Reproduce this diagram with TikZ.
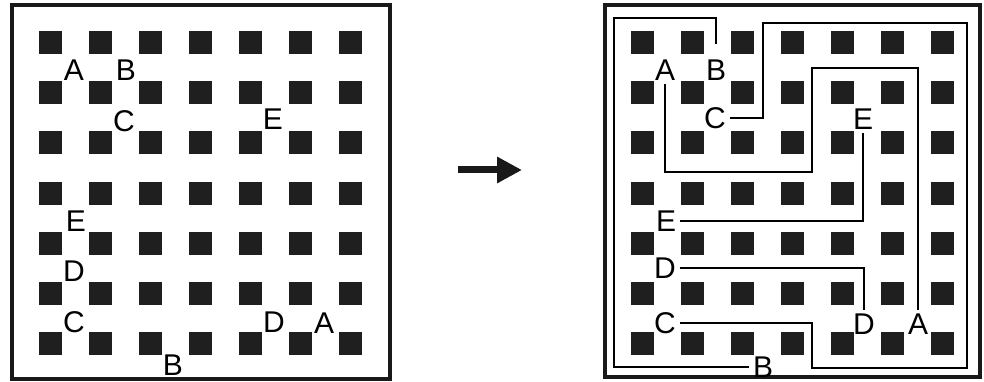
\documentclass[tikz,border=0pt]{standalone}
\usepackage{fontspec}
\setmainfont{Liberation Sans}
\usetikzlibrary{arrows.meta}
\tikzset{
    >=Latex,
    maze_square/.style={
        rectangle,
        fill=black!88,
        minimum size=23pt,
        inner sep=0pt
    },
    maze_label/.style={
        inner sep=3.5pt,
        font=\fontsize{30}{30}\selectfont
    },
    maze_frame/.style={
        draw=black!90,
        line width=3.5pt
    },
    maze_route/.style={
        draw=black,
        line width=1.7pt
    },
    maze_arrow/.style={
        -{Triangle[length=25pt, width=25pt]},
        line width=7pt,
        black!90
    }
}

\begin{document}
\begin{tikzpicture}[x=50pt, y=-50pt]
\useasboundingbox (0,0) rectangle (19.68,7.64);

% --- Left board ---
\draw[maze_frame] (0.24,0.1) rectangle (7.8,7.58);
\begin{scope}[shift={(0,-0.14)}]
\foreach \i in {1,...,7}
    \foreach \j in {1,...,7}
        \node[maze_square] (L-\i-\j) at (\i,\j) {};

\node[maze_label] (lA1) at (1.48,1.54) {A};
\node[maze_label] (lB1) at (2.52,1.54) {B};
\node[maze_label] (lC1) at (2.48,2.56) {C};
\node[maze_label] (lE1) at (5.46,2.52) {E};
\node[maze_label] (lE2) at (1.52,4.56) {E};
\node[maze_label] (lD1) at (1.48,5.56) {D};
\node[maze_label] (lC2) at (1.48,6.58) {C};
\node[maze_label] (lD2) at (5.48,6.58) {D};
\node[maze_label] (lA2) at (6.48,6.6) {A};
\node[maze_label] (lB2) at (3.46,7.44) {B};
\end{scope}

% --- Arrow ---
\coordinate (arrStart) at (9.16,3.4);
\coordinate (arrEnd) at (10.44,3.4);
\draw[maze_arrow] (arrStart) -- (arrEnd);

% --- Right board (routed) ---
\draw[maze_frame] (12.1,0.1) rectangle (19.6,7.54);
\begin{scope}[shift={(11.84,-0.14)}]
\foreach \i in {1,...,7}
    \foreach \j in {1,...,7}
        \node[maze_square] (R-\i-\j) at (\i,\j) {};

\node[maze_label] (rA1) at (1.46,1.54) {A};
\node[maze_label] (rB1) at (2.48,1.54) {B};
\node[maze_label] (rC1) at (2.46,2.5) {C};
\node[maze_label] (rE1) at (5.42,2.52) {E};
\node[maze_label] (rE2) at (1.48,4.56) {E};
\node[maze_label] (rD1) at (1.46,5.5) {D};
\node[maze_label] (rC2) at (1.46,6.6) {C};
\node[maze_label] (rD2) at (5.44,6.62) {D};
\node[maze_label] (rA2) at (6.52,6.62) {A};
\node[maze_label] (rB2) at (3.42,7.48) {B};

% routes
\draw[maze_route] (rA1.south) |- (4.4,3.58) |- (6.52,1.5) -- (rA2.north);
\draw[maze_route, shorten <=12pt] (rB1.north) |- (0.44,0.5) |- (rB2.west);
\draw[maze_route] (rC1.east) -| (3.42,0.6) -| (7.5,7.5) -| (4.4,6.6) -- (rC2.east);
\draw[maze_route] (rD1.east) -| (rD2.north);
\draw[maze_route] (rE1.south) |- (rE2.east);
\end{scope}

\end{tikzpicture}
\end{document}
